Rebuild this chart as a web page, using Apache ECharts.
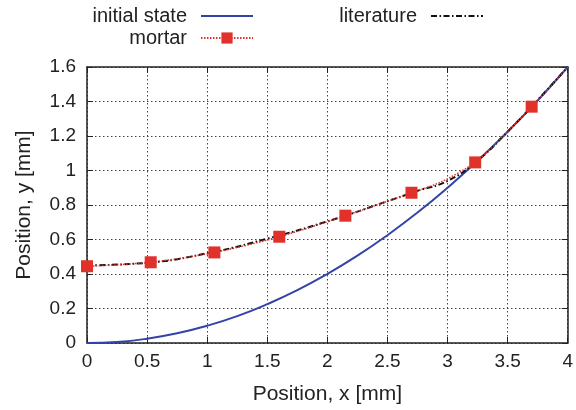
<!DOCTYPE html>
<html>
<head>
<meta charset="utf-8">
<script src="https://cdn.jsdelivr.net/npm/echarts@6/dist/echarts.min.js"></script>
<style>
  html, body { margin: 0; padding: 0; background: #fff; }
  #chart { width: 576px; height: 410px; }
</style>
</head>
<body>
<div id="chart"></div>
<script>
// Profile of the interface, y versus x (both in mm)
const initialX = [0, 0.25, 0.5, 0.75, 1, 1.25, 1.5, 1.75, 2, 2.25, 2.5, 2.75, 3, 3.25, 3.5, 3.75, 4];
const initialY = [0, 0.006, 0.025, 0.056, 0.1, 0.156, 0.225, 0.306, 0.4, 0.506, 0.625, 0.756, 0.9, 1.056, 1.225, 1.406, 1.6];

// mortar profile; only some of its points carry a marker
const mortarX = [0, 0.53, 1.06, 1.6, 2.15, 2.7, 2.95, 3.23, 3.45, 3.7, 3.85, 4];
const mortarY = [0.445, 0.468, 0.525, 0.616, 0.738, 0.871, 0.935, 1.047, 1.19, 1.37, 1.48, 1.6];
const mortarMarked = [true, true, true, true, true, true, false, true, false, true, false, false];

const literatureX = [0, 0.5, 1, 1.5, 2, 2.5, 2.75, 3, 3.25, 3.5, 3.75, 4];
const literatureY = [0.45, 0.465, 0.52, 0.605, 0.705, 0.822, 0.882, 0.94, 1.058, 1.225, 1.408, 1.6];

const xTicks = { min: 0, max: 4, interval: 0.5 };
const yTicks = { min: 0, max: 1.6, interval: 0.2 };

const FONT = 'Liberation Sans, Arial, Helvetica, sans-serif';
const BLUE = '#3443a8';
const RED = '#e0312a';

const pairs = (xs, ys) => xs.map((x, i) => [x, ys[i]]);

const mortarData = mortarX.map((x, i) => mortarMarked[i]
  ? { value: [x, mortarY[i]] }
  : { value: [x, mortarY[i]], symbol: 'none' });

const tickStyle = { show: true, inside: true, length: 6, lineStyle: { color: '#222', width: 1 } };
const frameLine = { show: true, onZero: false, lineStyle: { color: '#222', width: 1.5 } };
const gridLine = { show: true, lineStyle: { color: '#444', type: [1.5, 2.5], width: 1 } };

const legendBase = {
  orient: 'horizontal',
  align: 'right',
  padding: 0,
  itemWidth: 52,
  itemHeight: 14,
  textStyle: { fontFamily: FONT, fontSize: 20, color: '#222', padding: [0, 9, 0, 0] }
};
// plain line keys carry no marker
const lineOnly = (name) => ({ name: name, itemStyle: { opacity: 0 } });

const chart = echarts.init(document.getElementById('chart'), null, { renderer: 'canvas' });
chart.setOption({
  animation: false,
  backgroundColor: '#fff',
  textStyle: { fontFamily: FONT },
  grid: { left: 87, right: 7, top: 67, bottom: 65, containLabel: false },
  legend: [
    Object.assign({}, legendBase, { data: [lineOnly('initial state')], right: 322, top: 6 }),
    Object.assign({}, legendBase, { data: ['mortar'], right: 322, top: 28 }),
    Object.assign({}, legendBase, { data: [lineOnly('literature')], right: 92, top: 6 })
  ],
  xAxis: [
    {
      type: 'value', position: 'bottom',
      min: xTicks.min, max: xTicks.max, interval: xTicks.interval,
      name: 'Position, x [mm]', nameLocation: 'middle', nameGap: 41,
      nameTextStyle: { fontFamily: FONT, fontSize: 21, color: '#222' },
      axisLine: frameLine, axisTick: tickStyle, splitLine: gridLine,
      axisLabel: { fontFamily: FONT, fontSize: 19, color: '#222', margin: 9 }
    },
    {
      type: 'value', position: 'top',
      min: xTicks.min, max: xTicks.max, interval: xTicks.interval,
      axisLine: frameLine, axisTick: tickStyle, splitLine: { show: false },
      axisLabel: { show: false }
    }
  ],
  yAxis: [
    {
      type: 'value', position: 'left',
      min: yTicks.min, max: yTicks.max, interval: yTicks.interval,
      name: 'Position, y [mm]', nameLocation: 'middle', nameGap: 52,
      nameTextStyle: { fontFamily: FONT, fontSize: 21, color: '#222' },
      axisLine: frameLine, axisTick: tickStyle, splitLine: gridLine,
      axisLabel: { fontFamily: FONT, fontSize: 19, color: '#222', margin: 11 }
    },
    {
      type: 'value', position: 'right',
      min: yTicks.min, max: yTicks.max, interval: yTicks.interval,
      axisLine: frameLine, axisTick: tickStyle, splitLine: { show: false },
      axisLabel: { show: false }
    }
  ],
  series: [
    {
      name: 'initial state', type: 'line', z: 2,
      data: pairs(initialX, initialY),
      smooth: true, showSymbol: false, symbol: 'none',
      lineStyle: { color: BLUE, width: 2 },
      itemStyle: { color: BLUE }
    },
    {
      name: 'literature', type: 'line', z: 3,
      data: pairs(literatureX, literatureY),
      smooth: true, symbol: 'none',
      lineStyle: { color: '#111', width: 2, type: [6, 2.5, 1.5, 2.5] },
      itemStyle: { color: '#111' }
    },
    {
      name: 'mortar', type: 'line', z: 4,
      data: mortarData,
      smooth: 0.3,
      symbol: 'rect', symbolSize: 12,
      lineStyle: { color: RED, width: 1.5, type: [1.5, 1.5] },
      itemStyle: { color: RED }
    }
  ]
});
</script>
</body>
</html>
